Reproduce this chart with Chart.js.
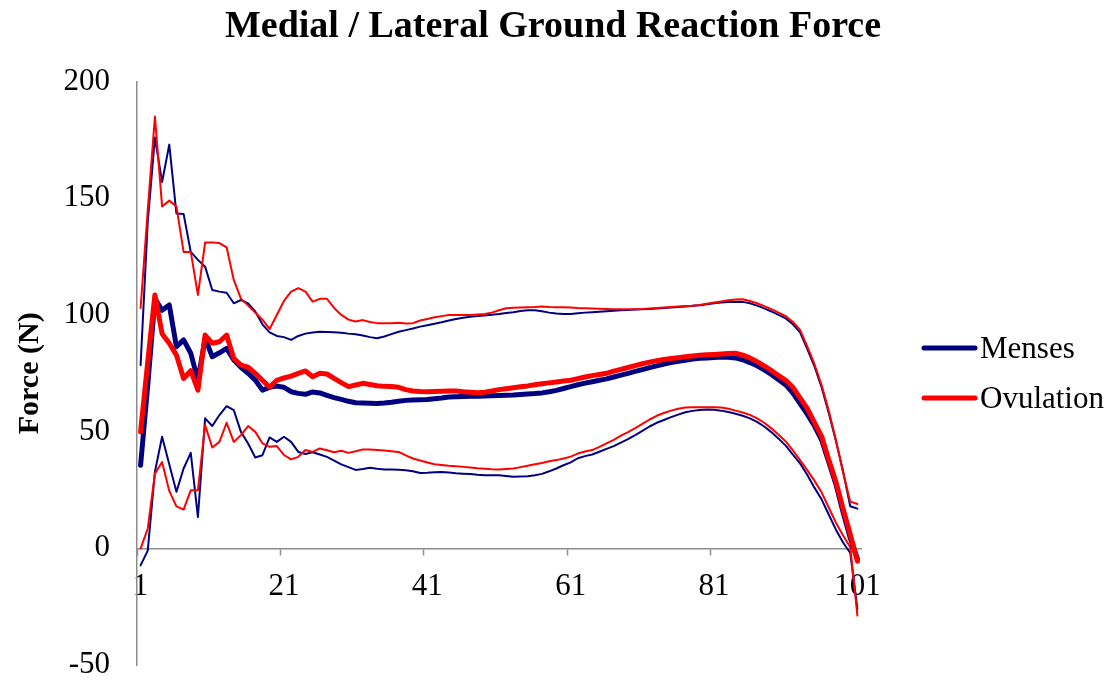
<!DOCTYPE html>
<html>
<head>
<meta charset="utf-8">
<script src="https://cdn.jsdelivr.net/npm/chart.js@4.4.1/dist/chart.umd.min.js"></script>
<style>
  html, body { margin: 0; padding: 0; background: #ffffff; }
  #wrap { width: 1114px; height: 683px; position: relative; }
</style>
</head>
<body>
<div id="wrap"><canvas id="c"></canvas></div>
<script>
const categories = [1,2,3,4,5,6,7,8,9,10,11,12,13,14,15,16,17,18,19,20,21,22,23,24,25,26,27,28,29,30,31,32,33,34,35,36,37,38,39,40,41,42,43,44,45,46,47,48,49,50,51,52,53,54,55,56,57,58,59,60,61,62,63,64,65,66,67,68,69,70,71,72,73,74,75,76,77,78,79,80,81,82,83,84,85,86,87,88,89,90,91,92,93,94,95,96,97,98,99,100,101];

const mensesUpper = [78.5,140,176,157,173,143.5,143.3,127,123.6,120.7,
  110.7,110,109.5,105,106.4,105,101.5,96,92.5,91,
  90.5,89.3,91,92,92.5,92.8,92.7,92.6,92.4,92,
  91.7,91.2,90.5,90,90.8,91.8,92.8,93.5,94.2,95,
  95.6,96.2,96.9,97.6,98.3,98.8,99.2,99.5,99.8,100.1,
  100.4,100.8,101.2,101.7,102,102,101.6,101,100.6,100.4,
  100.4,100.7,101,101.2,101.4,101.6,101.8,102,102.1,102.3,
  102.4,102.6,102.8,103,103.2,103.4,103.6,103.9,104.2,104.6,
  105,105.3,105.6,105.7,105.6,105,104,102.8,101.5,100,
  98.5,96,92.5,85.5,78,69,58,46,33,18,17];

const mensesMean = [35.6,70,107,102,104.3,86.4,89.3,83.6,72,90,
  82.1,83.8,85.7,80.7,77.6,75,72.1,67.8,69,69.5,
  69,67.1,66.4,66,67,66.6,65.5,64.6,63.8,63,
  62.4,62.3,62.2,62.1,62.3,62.6,63,63.4,63.6,63.7,
  63.8,64.1,64.4,64.8,65,65.1,65.2,65.2,65.3,65.4,
  65.5,65.6,65.7,65.9,66.1,66.3,66.6,67.1,67.7,68.5,
  69.3,70.1,70.8,71.4,72,72.6,73.4,74.2,75,75.8,
  76.6,77.4,78.2,79,79.6,80.1,80.6,81.1,81.4,81.6,
  81.8,82,81.9,81.6,80.8,79.6,78.2,76.5,74.5,72.3,
  70,66.5,62,57.5,52.5,46.5,37,27.5,15.5,4.5,-4.5];

const mensesLower = [-7.3,-1,32.8,47.8,36,24.2,34.2,40.9,13.4,55.7,
  52.4,57.1,60.9,59.2,49.9,44.9,38.9,39.9,47.5,45.6,
  47.8,45.6,41.3,40.4,41.2,40.2,39.2,37.6,36,34.8,
  33.6,34,34.5,34.1,33.8,33.8,33.7,33.5,33,32.3,
  32.4,32.6,32.7,32.5,32.2,32,31.8,31.5,31.3,31.3,
  31.3,31,30.7,30.8,30.9,31.3,31.9,33,34.2,35.6,
  36.8,38.6,39.5,40.2,41.4,42.6,43.8,45.3,46.8,48.5,
  50.3,52.2,53.8,55,56.2,57.3,58.3,58.9,59.3,59.5,
  59.4,59,58.4,57.7,56.8,55.7,54.2,52.2,49.8,47,
  44,40.2,36.4,31.5,26,21,14.5,8,2.5,-2,-26];

const ovulationUpper = [103,145,185,146.5,149,146.5,127,127,108.6,131,
  131,130.8,129,115,107,104,101,98,94,100,
  106,110,111.5,110,105.7,106.9,106.9,103,100,98,
  97.2,97.8,97,96.5,96.4,96.5,96.7,96.3,96.5,97.6,
  98.3,99,99.5,100,100,100,100,100.2,100.4,101,
  102,102.9,103.1,103.2,103.3,103.4,103.6,103.4,103.3,103.3,
  103.2,103,102.9,102.8,102.7,102.6,102.5,102.4,102.4,102.5,
  102.6,102.8,103,103.2,103.4,103.6,103.8,103.9,104.3,104.8,
  105.3,105.8,106.3,106.6,106.7,106,105,103.8,102.5,101,
  99.5,97,93.6,86.5,79,70,59,46.5,32.5,20,19];

const ovulationMean = [50,80,108.6,92,87.9,82.8,72.8,76.1,67.8,91.4,
  87.9,88.5,91.4,81.4,78.5,77.6,75,72,69,72,
  73,73.8,75,76,73.5,75,74.7,72.8,71,69.3,
  70,70.7,70.2,69.7,69.4,69.3,69,68,67.4,67.2,
  67.1,67.2,67.3,67.4,67.4,67.1,66.9,66.7,66.9,67.4,
  68,68.4,68.8,69.2,69.6,70.1,70.5,70.9,71.3,71.7,
  72,72.7,73.4,74,74.5,75,75.9,76.7,77.5,78.3,
  79.1,79.8,80.4,80.9,81.3,81.7,82.1,82.4,82.7,82.9,
  83.1,83.3,83.5,83.6,82.8,81.6,80,78.2,76.2,74,
  72,69,64.5,60,54,48,38,28.5,17,6,-5.5];

const ovulationLower = [-0.1,8.5,32,37,24.6,18,16.6,24.9,24.9,52.8,
  43.2,45.6,53.8,45.6,48.5,52.4,49.9,45,43.5,43.8,
  40,38.1,39.2,42.1,41.3,42.8,42,41.2,41.8,40.9,
  41.6,42.4,42.3,42.1,41.9,41.6,41.3,39.8,38.5,37.6,
  36.8,36,35.7,35.4,35.2,34.9,34.6,34.3,34.1,33.9,
  33.8,34,34.2,34.8,35.4,36,36.6,37.3,37.8,38.5,
  39.3,40.6,41.5,42.1,43.5,45,46.5,48.3,49.8,51.5,
  53.3,55.2,56.8,58,59,59.8,60.3,60.5,60.5,60.5,
  60.4,60.3,59.8,59,58.2,57.2,55.7,53.8,51.4,48.7,
  45.8,42,37.8,33.5,29,24,17.5,11,5.5,0.5,-28.8];

const yTicks = [-50, 0, 50, 100, 150, 200];
const xLabelEvery = 20;

const NAVY = '#000080';
const RED = '#FF0000';
const AXIS = '#8c8c8c';
const SERIF = '"Liberation Serif", "Times New Roman", serif';

function line(label, data, color, width, order, inLegend) {
  return {
    label, data, borderColor: color, backgroundColor: color,
    borderWidth: width, pointRadius: 0, pointHoverRadius: 0,
    tension: 0, fill: false, order,
    borderCapStyle: 'round', borderJoinStyle: 'round',
    inLegend
  };
}

const customLegend = {
  id: 'customLegend',
  afterDraw(chart) {
    const ctx = chart.ctx;
    const items = chart.data.datasets.filter(d => d.inLegend);
    ctx.save();
    items.forEach((d, i) => {
      const ty = 350 + i * 50;
      const ly = ty - 2;
      ctx.strokeStyle = d.borderColor;
      ctx.lineWidth = d.borderWidth;
      ctx.lineCap = 'round';
      ctx.beginPath();
      ctx.moveTo(924, ly);
      ctx.lineTo(975, ly);
      ctx.stroke();
      ctx.fillStyle = '#000';
      ctx.font = '31px ' + SERIF;
      ctx.textBaseline = 'middle';
      ctx.textAlign = 'left';
      ctx.fillText(d.label, 980, ty);
    });
    ctx.restore();
  }
};

new Chart(document.getElementById('c'), {
  type: 'line',
  data: {
    labels: categories,
    datasets: [
      line('Menses', mensesMean, NAVY, 5, 1, true),
      line('Ovulation', ovulationMean, RED, 5, 0, true),
      line('Menses +SD', mensesUpper, NAVY, 2, 3, false),
      line('Menses -SD', mensesLower, NAVY, 2, 3, false),
      line('Ovulation +SD', ovulationUpper, RED, 2, 2, false),
      line('Ovulation -SD', ovulationLower, RED, 2, 2, false)
    ]
  },
  options: {
    responsive: true,
    maintainAspectRatio: false,
    animation: false,
    events: [],
    layout: { padding: { left: 0, right: 8, top: 0, bottom: 18 } },
    plugins: {
      legend: { display: false },
      tooltip: { enabled: false },
      title: {
        display: true,
        text: 'Medial / Lateral Ground Reaction Force',
        color: '#000',
        font: { family: SERIF, size: 38, weight: 'bold' },
        padding: { top: 4, bottom: 32 }
      }
    },
    scales: {
      x: {
        type: 'category',
        position: { y: 0 },
        offset: true,
        afterFit: (s) => { s.height = 0; s.paddingTop = 0; s.paddingBottom = 0; },
        grid: {
          display: true,
          offset: true,
          drawOnChartArea: false,
          drawTicks: true,
          tickLength: 6,
          tickWidth: 1.5,
          color: (c) => (c.index !== undefined && c.index % xLabelEvery === 0) ? AXIS : 'rgba(0,0,0,0)'
        },
        border: { display: true, color: AXIS, width: 1.5 },
        ticks: {
          autoSkip: false,
          maxRotation: 0,
          minRotation: 0,
          padding: 14,
          color: '#000',
          font: { family: SERIF, size: 31 },
          callback: (v, i) => (i % xLabelEvery === 0 ? String(categories[i]) : '')
        }
      },
      y: {
        type: 'linear',
        position: 'left',
        min: yTicks[0],
        max: yTicks[yTicks.length - 1],
        afterBuildTicks: (s) => { s.ticks = yTicks.map(v => ({ value: v })); },
        afterFit: (s) => { s.width = 137; s.paddingTop = 0; s.paddingBottom = 0; },
        grid: { display: true, drawOnChartArea: false, drawTicks: false },
        border: { display: true, color: AXIS, width: 1.5 },
        ticks: {
          padding: 27,
          color: '#000',
          font: { family: SERIF, size: 31, lineHeight: 1.1 }
        },
        title: {
          display: true,
          text: 'Force (N)',
          color: '#000',
          font: { family: SERIF, size: 30, weight: 'bold' },
          padding: { top: 12, bottom: 0 }
        }
      },
      legendSpace: {
        type: 'linear',
        position: 'right',
        display: true,
        afterFit: (s) => { s.width = 245; s.paddingTop = 0; s.paddingBottom = 0; },
        grid: { display: false, drawTicks: false },
        border: { display: false },
        ticks: { display: false }
      }
    }
  },
  plugins: [customLegend]
});
</script>
</body>
</html>
